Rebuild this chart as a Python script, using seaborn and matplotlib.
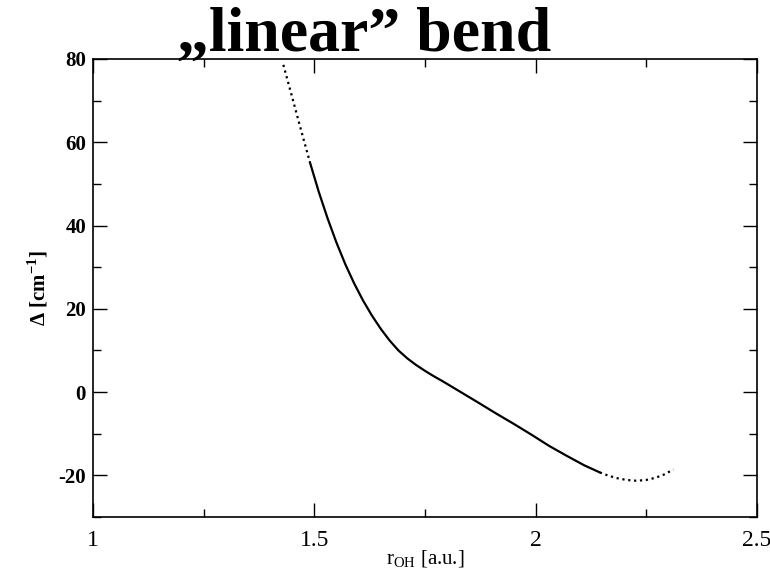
import matplotlib
matplotlib.use('Agg')
import matplotlib.pyplot as plt
from matplotlib.ticker import MultipleLocator
import seaborn as sns
import pandas as pd

# curve: dotted extrapolation, solid fit range, dotted tail
r_head = [1.430, 1.450, 1.468, 1.490]
d_head = [78.6, 70.8, 63.7, 55.2]

r_fit = [1.49, 1.51, 1.53, 1.55, 1.57, 1.59, 1.61, 1.63, 1.65, 1.67,
         1.69, 1.71, 1.73, 1.75, 1.77, 1.79, 1.83, 1.87, 1.91, 1.95,
         1.99, 2.03, 2.07, 2.11, 2.145]
d_fit = [55.2, 48.1, 41.7, 35.9, 30.7, 26.1, 22.0, 18.4, 15.2, 12.4,
         10.0, 8.1, 6.5, 5.1, 3.8, 2.6, 0.05, -2.5, -5.1, -7.6,
         -10.2, -12.9, -15.3, -17.6, -19.3]

r_tail = [2.145, 2.165, 2.185, 2.205, 2.228, 2.250, 2.270, 2.290, 2.311]
d_tail = [-19.3, -20.1, -20.7, -21.1, -21.3, -21.1, -20.6, -19.8, -18.6]

sns.set_style('ticks')
plt.rcParams['font.family'] = ['Liberation Serif', 'DejaVu Serif']
plt.rcParams['axes.unicode_minus'] = False
plt.rcParams['text.color'] = 'black'
plt.rcParams['axes.labelcolor'] = 'black'
plt.rcParams['xtick.color'] = 'black'
plt.rcParams['ytick.color'] = 'black'
plt.rcParams['axes.edgecolor'] = 'black'

fig = plt.figure(figsize=(7.7, 5.73), dpi=100)
ax = fig.add_axes([93 / 770, 1 - 517 / 573, 664 / 770, 458 / 573])

seg = pd.concat([
    pd.DataFrame({'r': r_head, 'd': d_head, 'part': 'head'}),
    pd.DataFrame({'r': r_fit, 'd': d_fit, 'part': 'fit'}),
    pd.DataFrame({'r': r_tail, 'd': d_tail, 'part': 'tail'}),
])
styles = {'head': ':', 'fit': '-', 'tail': ':'}
for part, g in seg.groupby('part', sort=False):
    sns.lineplot(data=g, x='r', y='d', ax=ax, color='black', linewidth=1.6,
                 linestyle=styles[part], estimator=None, sort=False, legend=False)

ax.set_xlim(1, 2.5)
ax.set_ylim(-30, 80)
ax.xaxis.set_major_locator(MultipleLocator(0.5))
ax.xaxis.set_minor_locator(MultipleLocator(0.25))
ax.yaxis.set_major_locator(MultipleLocator(20))
ax.yaxis.set_minor_locator(MultipleLocator(10))
ax.set_xticks([1, 1.5, 2, 2.5], ['1', '1.5', '2', '2.5'])
ax.tick_params(which='both', direction='in', top=True, right=True, width=1)
ax.tick_params(which='major', length=10)
ax.tick_params(which='minor', length=6)
ax.tick_params(axis='x', labelsize=17, pad=9)
ax.tick_params(axis='y', labelsize=15, pad=5)
for lab in ax.get_yticklabels():
    lab.set_fontweight('bold')
for sp in ax.spines.values():
    sp.set_linewidth(1.2)

ax.set_xlabel(r'r$_{\mathregular{OH}}$ [a.u.]', fontsize=15, labelpad=-1)
ax.set_ylabel(r'$\mathregular{\Delta}$ [cm$^{\mathregular{-1}}$]', fontsize=15,
              fontweight='bold', labelpad=6)

fig.text(364 / 770, 1 - 36 / 573, '„linear” bend', ha='center', va='center',
         fontsize=46, fontweight='bold')

fig.savefig('out.png', dpi=100)
